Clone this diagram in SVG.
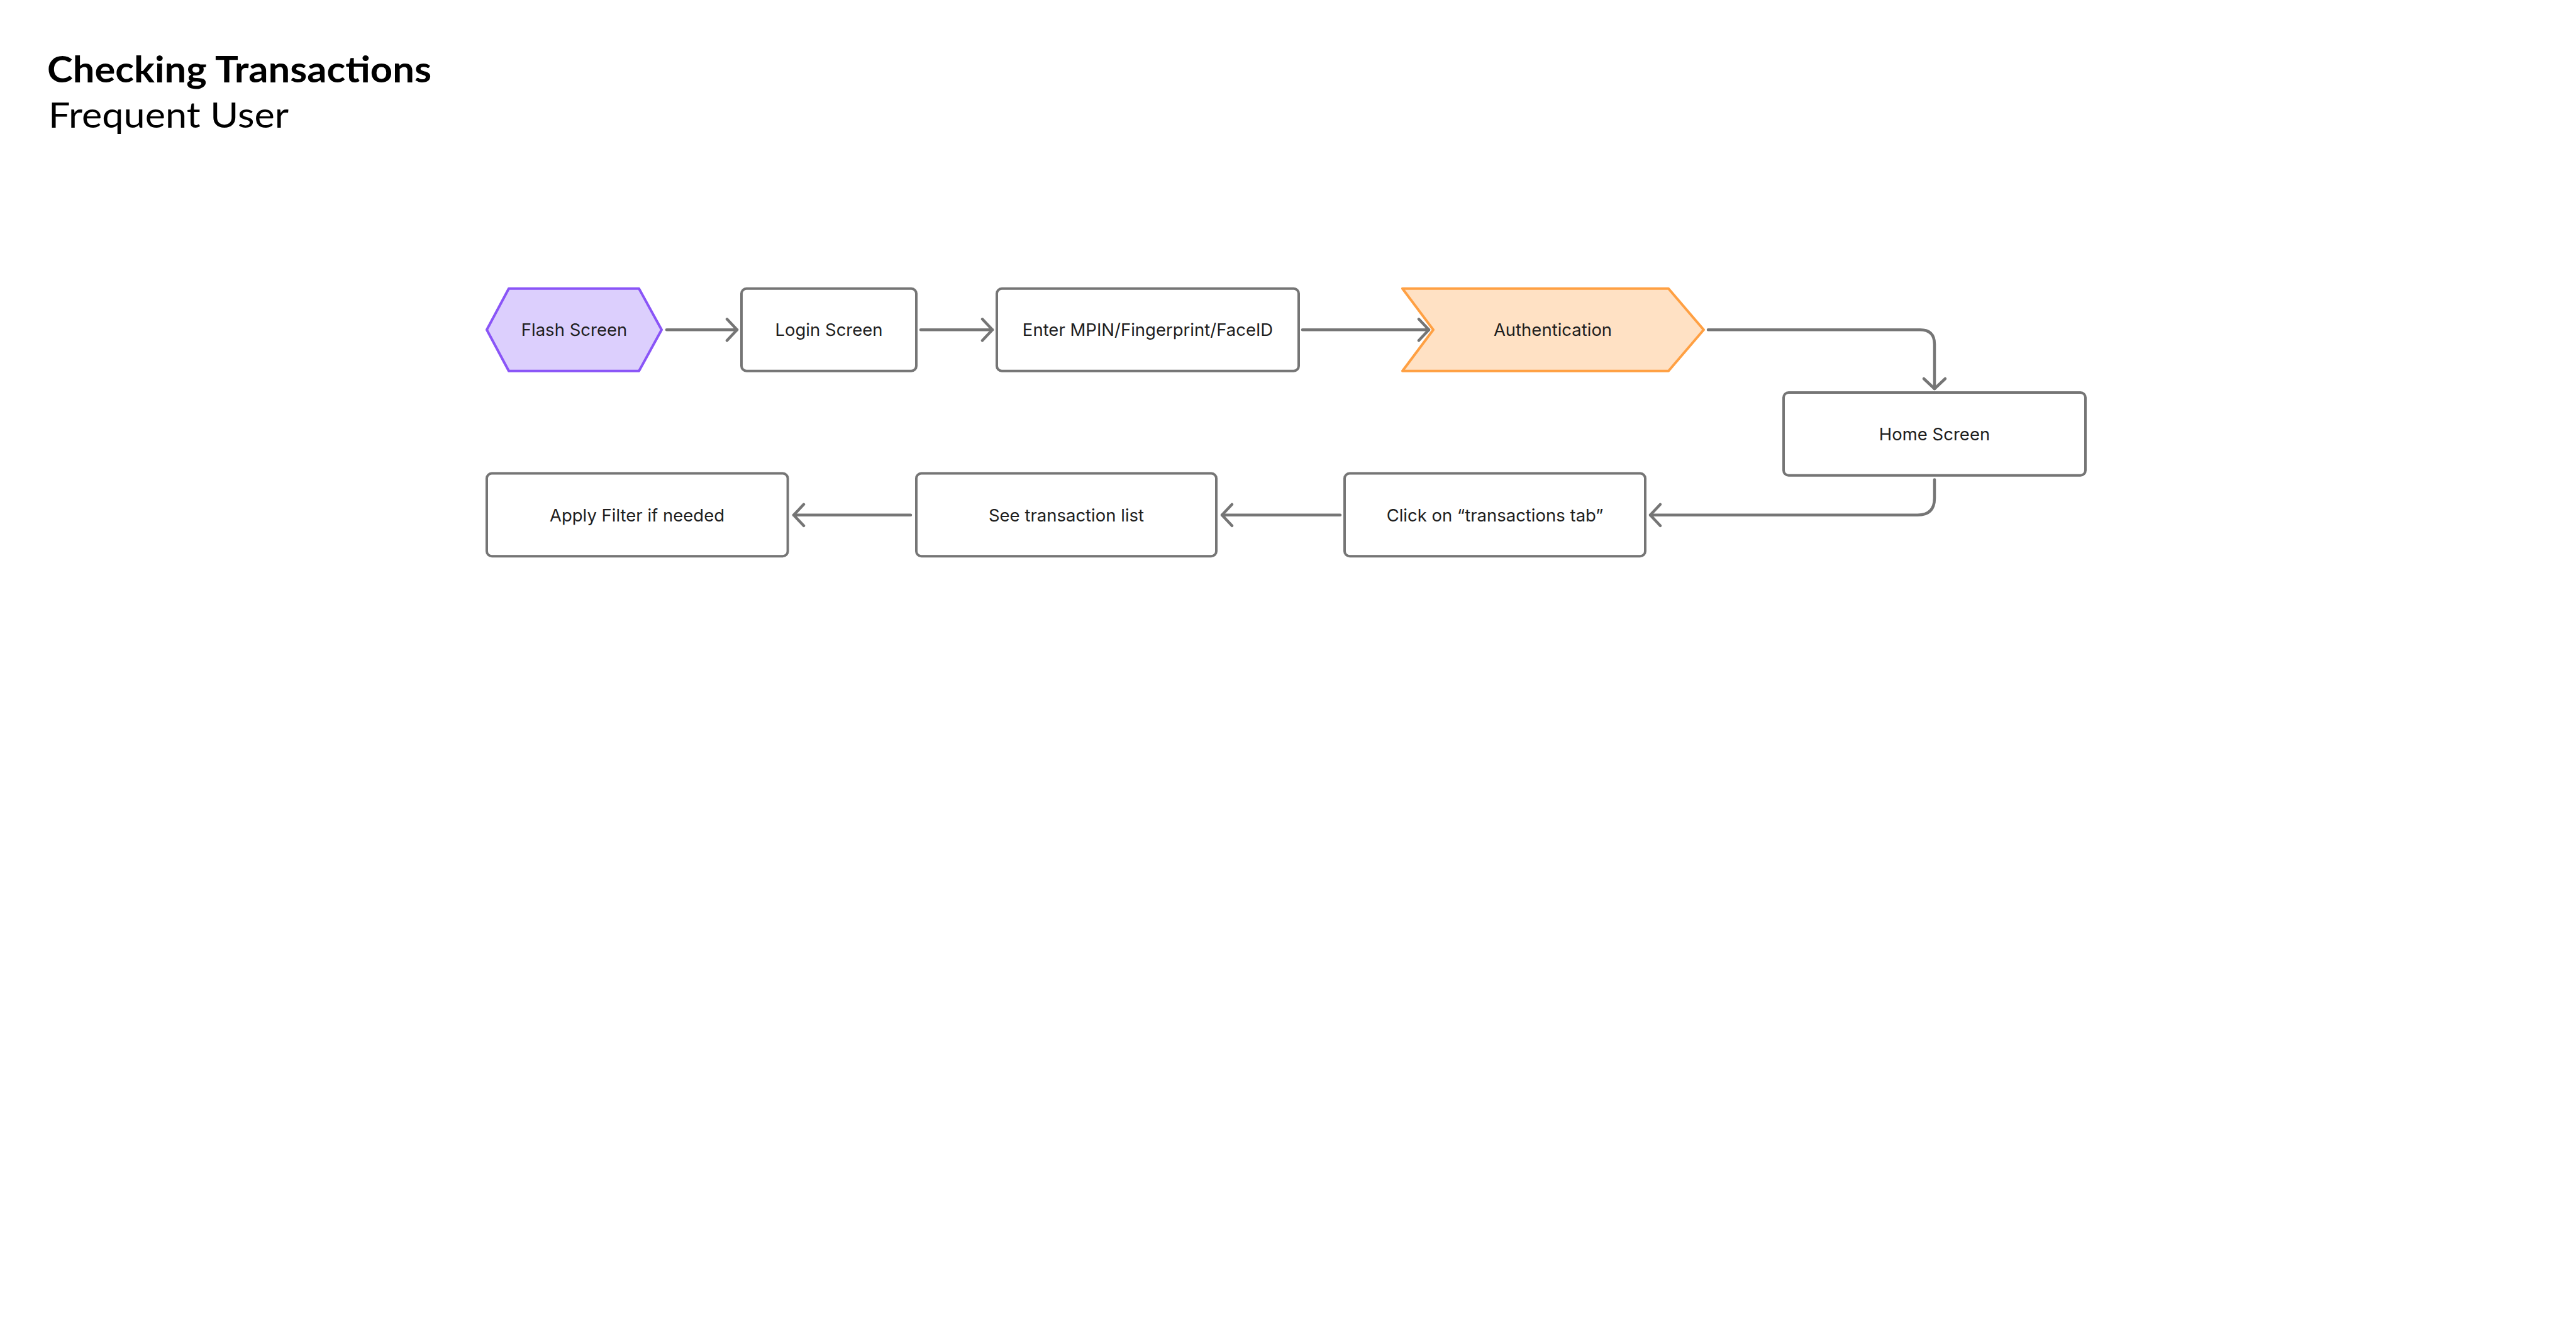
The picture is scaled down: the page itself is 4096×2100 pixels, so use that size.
<svg xmlns="http://www.w3.org/2000/svg" width="4096" height="2100" viewBox="0 0 4096 2100">
<defs>
<style>
.box{fill:#ffffff;stroke:#757575;stroke-width:4;}
.lbl{font-family:Inter,"Liberation Sans",sans-serif;font-size:27.5px;fill:#1e1e1e;text-anchor:middle;dominant-baseline:central;}
.con{fill:none;stroke:#757575;stroke-width:4.5;stroke-linecap:round;stroke-linejoin:round;}
.ttl{font-family:Lato,"Liberation Sans",sans-serif;fill:#000000;}
</style>
<marker id="ah" markerUnits="userSpaceOnUse" viewBox="-20 -20 24 40" refX="0" refY="0" markerWidth="24" markerHeight="40" orient="auto" overflow="visible">
<path d="M -16 -17 L 0 0 L -16 17" fill="none" stroke="#757575" stroke-width="4.5" stroke-linecap="round" stroke-linejoin="round"/>
</marker>
</defs>
<rect width="4096" height="2100" fill="#ffffff"/>
<g id="title">
<text class="ttl" x="75" y="131" font-size="58" font-weight="700" textLength="611" lengthAdjust="spacingAndGlyphs">Checking Transactions</text>
<text class="ttl" x="77" y="203" font-size="56" font-weight="400" textLength="382" lengthAdjust="spacingAndGlyphs">Frequent User</text>
</g>
<g id="connectors">
<path class="con" d="M 1060 524.3 L 1172 524.3" marker-end="url(#ah)"/>
<path class="con" d="M 1464 524.3 L 1578 524.3" marker-end="url(#ah)"/>
<path class="con" d="M 2071 524.3 L 2272 524.3" marker-end="url(#ah)"/>
<path class="con" d="M 2716 524.3 L 3053 524.3 Q 3076 524.3 3076 547.3 L 3076 618" marker-end="url(#ah)"/>
<path class="con" d="M 3076 762.5 L 3076 791.8 Q 3076 818.8 3049 818.8 L 2624 818.8" marker-end="url(#ah)"/>
<path class="con" d="M 2131 818.8 L 1943 818.8" marker-end="url(#ah)"/>
<path class="con" d="M 1448 818.8 L 1262 818.8" marker-end="url(#ah)"/>
</g>
<g id="flash-screen">
<polygon points="774,524.3 809,458.7 1016,458.7 1052,524.3 1016,589.8 809,589.8" fill="#dccffd" stroke="#8a55f7" stroke-width="4" stroke-linejoin="round"/>
<text class="lbl" x="913" y="524.3">Flash Screen</text>
</g>
<g id="login-screen">
<rect class="box" x="1179" y="458.7" width="278" height="131.1" rx="8"/>
<text class="lbl" x="1318" y="524.3">Login Screen</text>
</g>
<g id="enter-mpin">
<rect class="box" x="1585" y="458.7" width="480" height="131.1" rx="8"/>
<text class="lbl" x="1825" y="524.3">Enter MPIN/Fingerprint/FaceID</text>
</g>
<g id="authentication">
<polygon points="2230,458.7 2653,458.7 2709,524.3 2653,589.8 2230,589.8 2279,524.3" fill="#ffe1c4" stroke="#ffa043" stroke-width="4" stroke-linejoin="round"/>
<text class="lbl" x="2469" y="524.3">Authentication</text>
</g>
<g id="home-screen">
<rect class="box" x="2836" y="624" width="480" height="131.7" rx="8"/>
<text class="lbl" x="3076" y="689.8">Home Screen</text>
</g>
<g id="click-transactions">
<rect class="box" x="2138" y="752.6" width="478" height="131.7" rx="8"/>
<text class="lbl" x="2377" y="818.8">Click on “transactions tab”</text>
</g>
<g id="see-transaction-list">
<rect class="box" x="1457" y="752.6" width="477" height="131.7" rx="8"/>
<text class="lbl" x="1695.5" y="818.8">See transaction list</text>
</g>
<g id="apply-filter">
<rect class="box" x="774" y="752.6" width="478.6" height="131.7" rx="8"/>
<text class="lbl" x="1013" y="818.8">Apply Filter if needed</text>
</g>
</svg>
